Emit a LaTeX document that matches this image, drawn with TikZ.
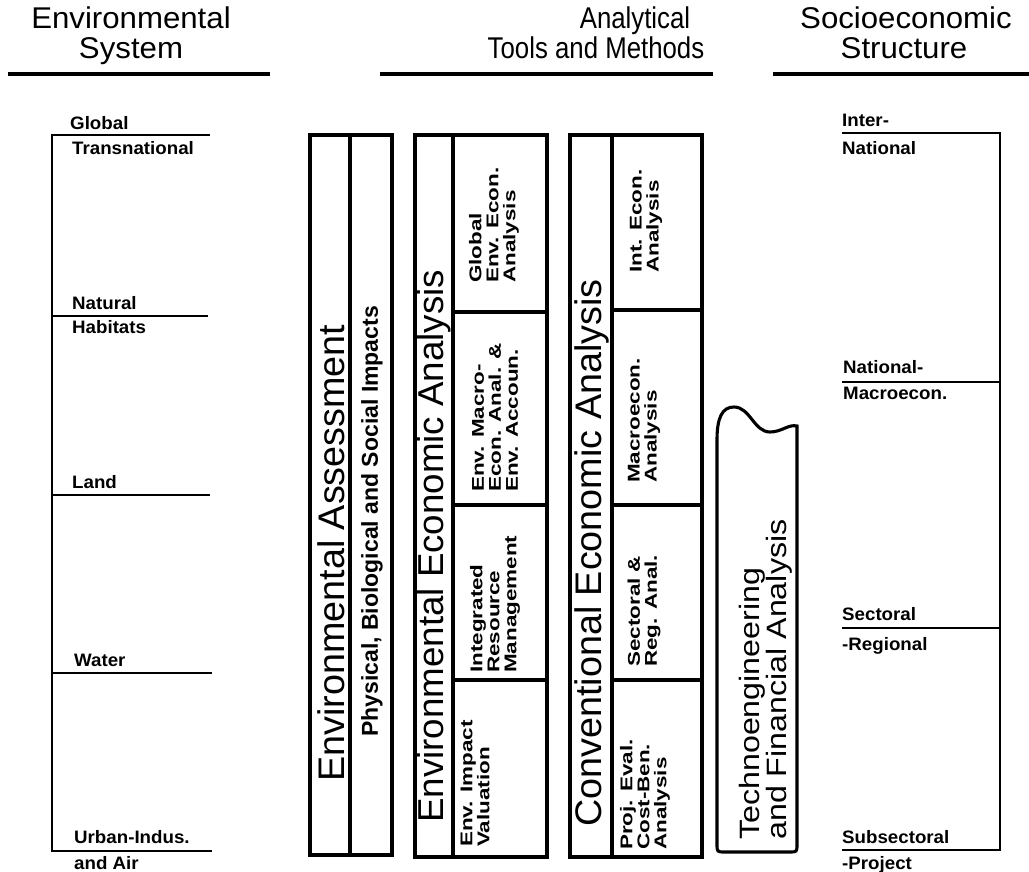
\documentclass[tikz,border=0pt]{standalone}
\usepackage{fontspec}
\setmainfont{Liberation Sans}
\newfontfamily\headfont[FakeStretch=1.04]{Liberation Sans}
\newfontfamily\midheadfont[FakeStretch=0.86]{Liberation Sans}
\newfontfamily\bigfont[FakeStretch=1.02]{Liberation Sans}
\newfontfamily\lvlfont[FakeStretch=1.04]{Liberation Sans}
\newfontfamily\cellfont[FakeStretch=1.32]{Liberation Sans}
\newfontfamily\techfont[FakeStretch=1.15]{Liberation Sans}

\begin{document}
\begin{tikzpicture}[x=1pt,y=-1pt,
  frame/.style={line width=3.1pt, line join=miter},
  rule/.style={line width=2.8pt},
  headrule/.style={line width=3.6pt},
  head/.style={inner sep=0pt, anchor=base, font=\headfont\fontsize{30}{30}\selectfont},
  midhead/.style={inner sep=0pt, anchor=base, font=\midheadfont\fontsize{30}{30}\selectfont},
  lvl/.style={inner sep=0pt, anchor=base west, font=\lvlfont\fontsize{18}{20}\selectfont\bfseries},
  big/.style={inner sep=0pt, rotate=90, anchor=west, font=\bigfont\fontsize{#1}{40}\selectfont},
  big/.default=36,
  cell/.style={inner sep=0pt, rotate=90, anchor=west, align=left,
    font=\cellfont\fontsize{17}{17}\selectfont\bfseries},
  tech/.style={inner sep=0pt, rotate=90, anchor=west, align=left,
    font=\techfont\fontsize{28}{24}\selectfont}]

\useasboundingbox (0,0) rectangle (1029,872);
\fill[white] (0,0) rectangle (1029,872);

% ---------- column headings ----------
\node[head] (h1a) at (131,29) {Environmental};
\node[head] (h1b) at (131,59) {System};
\draw[headrule] (8,74) -- (270,74);

\node[midhead] (h2a) at (635,29) {Analytical};
\node[midhead] (h2b) at (596,59) {Tools and Methods};
\draw[headrule] (380,74) -- (713,74);

\node[head] (h3a) at (906,29) {Socioeconomic};
\node[head] (h3b) at (904,59) {Structure};
\draw[headrule] (773,74) -- (1029,74);

% ---------- environmental system scale ----------
\draw[rule] (210,135) -- (52,135) -- (52,851) -- (212,851);
\draw[rule] (52,316) -- (208,316);
\draw[rule] (52,495) -- (210,495);
\draw[rule] (52,673) -- (212,673);

\node[lvl] (gl) at (70,130) {Global};
\node[lvl] (tn) at (72,155) {Transnational};
\node[lvl] (na) at (72,309) {Natural};
\node[lvl] (hb) at (72,333) {Habitats};
\node[lvl] (ld) at (72,488) {Land};
\node[lvl] (wt) at (74,666) {Water};
\node[lvl] (ui) at (74,843) {Urban-Indus.};
\node[lvl] (ai) at (74,869) {and Air};

% ---------- socioeconomic scale ----------
\draw[rule] (842,133) -- (1000,133) -- (1000,850) -- (842,850);
\draw[rule] (842,382) -- (1000,382);
\draw[rule] (842,628) -- (1000,628);

\node[lvl] (it) at (842,127) {Inter-};
\node[lvl] (nt) at (842,155) {National};
\node[lvl] (nm) at (843,373) {National-};
\node[lvl] (mc) at (843,399) {Macroecon.};
\node[lvl] (sc) at (842,620) {Sectoral};
\node[lvl] (rg) at (842,650) {-Regional};
\node[lvl] (ss) at (842,843) {Subsectoral};
\node[lvl] (pj) at (842,869) {-Project};

% ---------- environmental assessment ----------
\draw[frame] (310,135) rectangle (392,855);
\draw[frame] (350,135) -- (350,855);
\node[big=37] (ea) at (331,782) {Environmental Assessment};
\node[inner sep=0pt, rotate=90, anchor=west, font=\fontsize{23}{26}\selectfont\bfseries]
  (ea2) at (372,737) {Physical, Biological and Social Impacts};

% ---------- environmental economic analysis ----------
\draw[frame] (415,135) rectangle (547,857);
\draw[frame] (453,135) -- (453,857);
\draw[frame] (453,312) -- (547,312);
\draw[frame] (453,505) -- (547,505);
\draw[frame] (453,680) -- (547,680);
\node[big=36] (eea) at (434,823) {Environmental Economic Analysis};
\node[cell] (e1) at (494,283) {Global\\Env. Econ.\\Analysis};
\node[cell] (e2) at (495,492) {Env. Macro-\\Econ. Anal. \&\\Env. Accoun.};
\node[cell] (e3) at (495,673) {Integrated\\Resource\\Management};
\node[cell] (e4) at (475,847) {Env. Impact\\Valuation};

% ---------- conventional economic analysis ----------
\draw[frame] (570,135) rectangle (702,857);
\draw[frame] (612,135) -- (612,857);
\draw[frame] (612,310) -- (702,310);
\draw[frame] (612,505) -- (702,505);
\draw[frame] (612,680) -- (702,680);
\node[big=37] (cea) at (592,827) {Conventional Economic Analysis};
\node[cell] (c1) at (646,273) {Int. Econ.\\Analysis};
\node[cell] (c2) at (644,483) {Macroecon.\\Analysis};
\node[cell] (c3) at (644,667) {Sectoral \&\\Reg. Anal.};
\node[cell] (c4) at (645,850) {Proj. Eval.\\Cost-Ben.\\Analysis};

% ---------- technoengineering and financial analysis ----------
\draw[frame] (797,426) -- (797,844) .. controls (797,852) .. (789,852)
  -- (725,852) .. controls (717,852) .. (717,844) -- (717,440)
  .. controls (717,418) and (722,407) .. (734,407)
  .. controls (750,407) and (754,432) .. (770,432)
  .. controls (782,432) and (788,424) .. (797,426) -- cycle;
\node[tech] (tf) at (766,840) {Technoengineering\\and Financial Analysis};

\end{tikzpicture}
\end{document}
